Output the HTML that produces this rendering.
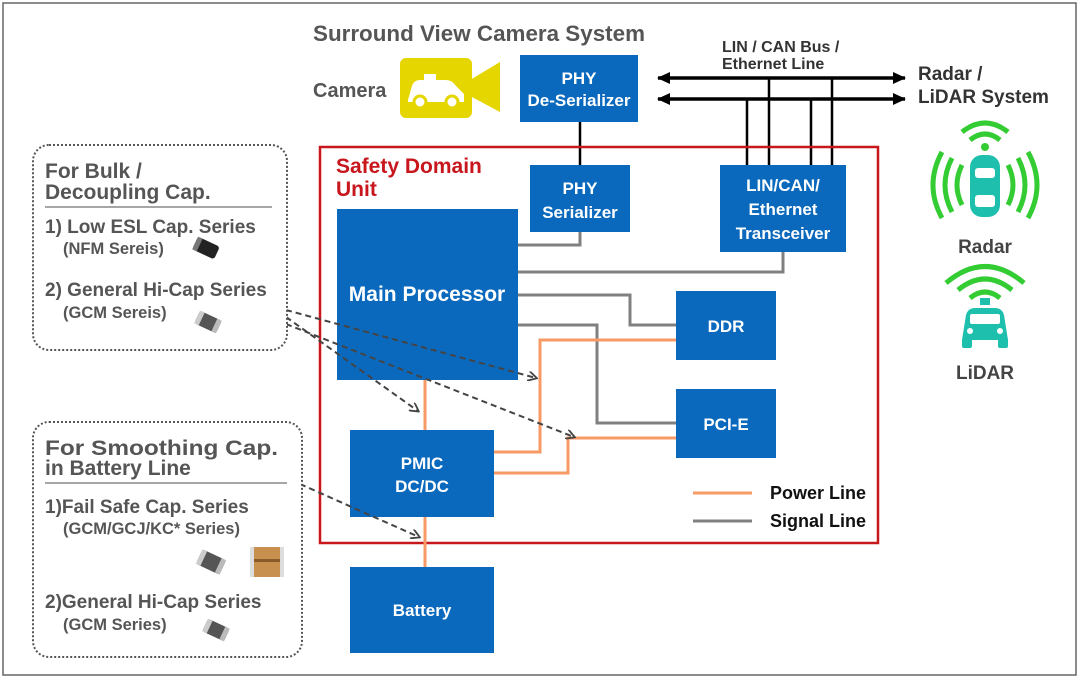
<!DOCTYPE html>
<html><head><meta charset="utf-8"><style>
body{margin:0;background:#fff}
svg text{font-family:"Liberation Sans",sans-serif;font-weight:bold}
</style></head><body>
<svg width="1080" height="680" viewBox="0 0 1080 680" xmlns="http://www.w3.org/2000/svg">
<defs>
<marker id="ah" markerWidth="10" markerHeight="10" refX="8" refY="5" orient="auto" markerUnits="userSpaceOnUse"><path d="M0,0 L9,5 L0,10" fill="none" stroke="#444" stroke-width="1.8"/></marker>
<marker id="bh" markerWidth="14" markerHeight="14" refX="12" refY="7" orient="auto-start-reverse" markerUnits="userSpaceOnUse"><path d="M0,1 L13,7 L0,13 Z" fill="#000"/></marker>
</defs>
<rect x="3" y="3" width="1073" height="672" fill="#fff" stroke="#666" stroke-width="1.5"/>
<text x="313" y="41" font-size="22" fill="#555" textLength="332" lengthAdjust="spacingAndGlyphs">Surround View Camera System</text>
<text x="313" y="97" font-size="20" fill="#555">Camera</text>
<!-- camera -->
<rect x="400" y="58" width="72" height="60" rx="6" fill="#e5d600"/>
<path d="M470,80 L500,62 L500,112 L470,96 Z" fill="#e5d600"/>
<path d="M408,100 L412,86 Q414,80 420,80 L446,80 Q452,80 456,86 L464,94 L464,102 L408,102 Z" fill="#fff"/>
<rect x="424" y="74" width="12" height="6" fill="#fff"/>
<circle cx="420" cy="102" r="6" fill="#fff" stroke="#e5d600" stroke-width="3"/>
<circle cx="452" cy="102" r="6" fill="#fff" stroke="#e5d600" stroke-width="3"/>
<!-- bus -->
<text x="722" y="52" font-size="16" fill="#333" font-weight="normal">LIN / CAN Bus /</text>
<text x="722" y="69" font-size="16" fill="#333" font-weight="normal">Ethernet Line</text>
<line x1="658" y1="78" x2="905" y2="78" stroke="#000" stroke-width="3.5" marker-start="url(#bh)" marker-end="url(#bh)"/>
<line x1="658" y1="99" x2="905" y2="99" stroke="#000" stroke-width="3.5" marker-start="url(#bh)" marker-end="url(#bh)"/>
<g stroke="#000" stroke-width="2.5">
<line x1="747" y1="99" x2="747" y2="165"/><line x1="769" y1="78" x2="769" y2="165"/>
<line x1="811" y1="99" x2="811" y2="165"/><line x1="832" y1="78" x2="832" y2="165"/>
<line x1="580" y1="122" x2="580" y2="165"/>
</g>
<text x="918" y="80" font-size="19" fill="#333">Radar /</text>
<text x="918" y="103" font-size="19" fill="#333">LiDAR System</text>
<!-- red box -->
<rect x="320" y="147" width="558" height="396" fill="none" stroke="#c8161d" stroke-width="2.5"/>
<text x="336" y="173" font-size="21" fill="#c8161d">Safety Domain</text>
<text x="336" y="196" font-size="21" fill="#c8161d">Unit</text>
<!-- lines signal -->
<g fill="none" stroke="#808080" stroke-width="3">
<polyline points="580,232 580,245 518,245"/>
<polyline points="783,252 783,272 518,272"/>
<polyline points="518,295 630,295 630,325 676,325"/>
<polyline points="518,325 597,325 597,423 676,423"/>
</g>
<g fill="none" stroke="#f79a66" stroke-width="3">
<line x1="425" y1="380" x2="425" y2="430"/>
<line x1="425" y1="517" x2="425" y2="567"/>
<polyline points="494,452 540,452 540,340 676,340"/>
<polyline points="494,473 568,473 568,438 676,438"/>
</g>
<!-- boxes -->
<g fill="#0a69bd">
<rect x="520" y="55" width="118" height="67"/>
<rect x="530" y="165" width="100" height="67"/>
<rect x="720" y="165" width="126" height="87"/>
<rect x="337" y="209" width="181" height="171"/>
<rect x="676" y="291" width="100" height="69"/>
<rect x="676" y="389" width="100" height="69"/>
<rect x="350" y="430" width="144" height="87"/>
<rect x="350" y="567" width="144" height="86"/>
</g>
<g fill="#fff" text-anchor="middle" font-size="17">
<text x="579" y="84">PHY</text><text x="579" y="106">De-Serializer</text>
<text x="580" y="194">PHY</text><text x="580" y="218">Serializer</text>
<text x="783" y="191">LIN/CAN/</text><text x="783" y="215">Ethernet</text><text x="783" y="239">Transceiver</text>
<text x="427" y="301" font-size="21">Main Processor</text>
<text x="726" y="332">DDR</text>
<text x="726" y="430">PCI-E</text>
<text x="422" y="469">PMIC</text><text x="422" y="492">DC/DC</text>
<text x="422" y="616">Battery</text>
</g>
<!-- legend -->
<line x1="693" y1="493" x2="752" y2="493" stroke="#f79a66" stroke-width="3"/>
<line x1="693" y1="521" x2="752" y2="521" stroke="#808080" stroke-width="3"/>
<text x="770" y="499" font-size="18" fill="#111">Power Line</text>
<text x="770" y="527" font-size="18" fill="#111">Signal Line</text>
<!-- dashed arrows -->
<g stroke="#444" stroke-width="2" stroke-dasharray="6,4" fill="none">
<line x1="286" y1="310" x2="536" y2="378" marker-end="url(#ah)"/>
<line x1="286" y1="317" x2="418" y2="411" marker-end="url(#ah)"/>
<line x1="286" y1="324" x2="574" y2="437" marker-end="url(#ah)"/>
<line x1="300" y1="484" x2="419" y2="537" marker-end="url(#ah)"/>
</g>
<!-- left boxes -->
<rect x="33" y="145" width="254" height="205" rx="16" fill="#fff" stroke="#555" stroke-width="2" stroke-dasharray="2,2"/>
<text x="45" y="178" font-size="21" fill="#555">For Bulk /</text>
<text x="45" y="199" font-size="21" fill="#555">Decoupling Cap.</text>
<line x1="45" y1="207" x2="272" y2="207" stroke="#888" stroke-width="1.5"/>
<text x="45" y="233" font-size="19" fill="#555">1) Low ESL Cap. Series</text>
<text x="63" y="254" font-size="16.5" fill="#555">(NFM Sereis)</text>
<text x="45" y="296" font-size="19" fill="#555">2) General Hi-Cap Series</text>
<text x="63" y="318" font-size="16.5" fill="#555">(GCM Sereis)</text>
<g transform="translate(206,248) rotate(25)"><rect x="-12" y="-7" width="24" height="14" rx="3" fill="#222"/><rect x="-12" y="-7" width="5" height="14" fill="#777"/></g>
<g transform="translate(208,322) rotate(25)"><rect x="-12" y="-7" width="24" height="14" rx="3" fill="#555"/><rect x="-12" y="-7" width="5" height="14" fill="#ccc"/><rect x="7" y="-7" width="5" height="14" fill="#bbb"/></g>

<rect x="33" y="422" width="269" height="235" rx="16" fill="#fff" stroke="#555" stroke-width="2" stroke-dasharray="2,2"/>
<text x="45" y="455" font-size="21" fill="#555" textLength="233" lengthAdjust="spacingAndGlyphs">For Smoothing Cap.</text>
<text x="45" y="475" font-size="21" fill="#555">in Battery Line</text>
<line x1="45" y1="483" x2="287" y2="483" stroke="#888" stroke-width="1.5"/>
<text x="45" y="513" font-size="19" fill="#555">1)Fail Safe Cap. Series</text>
<text x="63" y="534" font-size="16.5" fill="#555">(GCM/GCJ/KC* Series)</text>
<g transform="translate(211,562) rotate(25)"><rect x="-13" y="-8" width="26" height="16" rx="3" fill="#555"/><rect x="-13" y="-8" width="5" height="16" fill="#ccc"/><rect x="8" y="-8" width="5" height="16" fill="#bbb"/></g>
<rect x="250" y="547" width="34" height="30" fill="#c8904e"/><rect x="250" y="559" width="34" height="3" fill="#8a5a2a"/><rect x="250" y="547" width="4" height="30" fill="#ddd"/><rect x="280" y="547" width="4" height="30" fill="#ddd"/>
<text x="45" y="608" font-size="19" fill="#555">2)General Hi-Cap Series</text>
<text x="63" y="630" font-size="16.5" fill="#555">(GCM Series)</text>
<g transform="translate(216,630) rotate(25)"><rect x="-12" y="-7" width="24" height="14" rx="3" fill="#555"/><rect x="-12" y="-7" width="5" height="14" fill="#ccc"/><rect x="7" y="-7" width="5" height="14" fill="#bbb"/></g>

<!-- radar icon -->
<g fill="none" stroke="#33cc33" stroke-width="5">
<path d="M970,140 Q985,128 1000,140"/><path d="M962,132 Q985,114 1008,132"/>
<path d="M962,165 Q952,185 962,205"/><path d="M952,158 Q938,185 952,212"/><path d="M942,152 Q924,185 942,218"/>
<path d="M1008,165 Q1018,185 1008,205"/><path d="M1018,158 Q1032,185 1018,212"/><path d="M1028,152 Q1046,185 1028,218"/>
</g>
<circle cx="985" cy="147" r="4" fill="#33cc33"/>
<rect x="970" y="155" width="30" height="62" rx="12" fill="#1fbfae"/>
<rect x="975" y="168" width="20" height="10" rx="3" fill="#fff"/><rect x="975" y="195" width="20" height="12" rx="3" fill="#fff"/>
<text x="985" y="253" font-size="19" fill="#444" text-anchor="middle">Radar</text>
<!-- lidar -->
<g fill="none" stroke="#33cc33" stroke-width="5">
<path d="M970,298 Q985,286 1000,298"/><path d="M958,290 Q985,268 1012,290"/><path d="M946,283 Q985,250 1024,283"/>
</g>
<rect x="980" y="298" width="10" height="7" fill="#1fbfae"/>
<path d="M962,340 L966,315 Q968,308 975,308 L995,308 Q1002,308 1004,315 L1008,340 Z" fill="#1fbfae"/>
<rect x="970" y="314" width="30" height="10" rx="2" fill="#fff"/>
<rect x="962" y="338" width="10" height="10" rx="2" fill="#1fbfae"/><rect x="998" y="338" width="10" height="10" rx="2" fill="#1fbfae"/>
<circle cx="970" cy="331" r="3" fill="#fff"/><circle cx="1000" cy="331" r="3" fill="#fff"/>
<text x="985" y="379" font-size="19" fill="#444" text-anchor="middle">LiDAR</text>
</svg>
</body></html>
